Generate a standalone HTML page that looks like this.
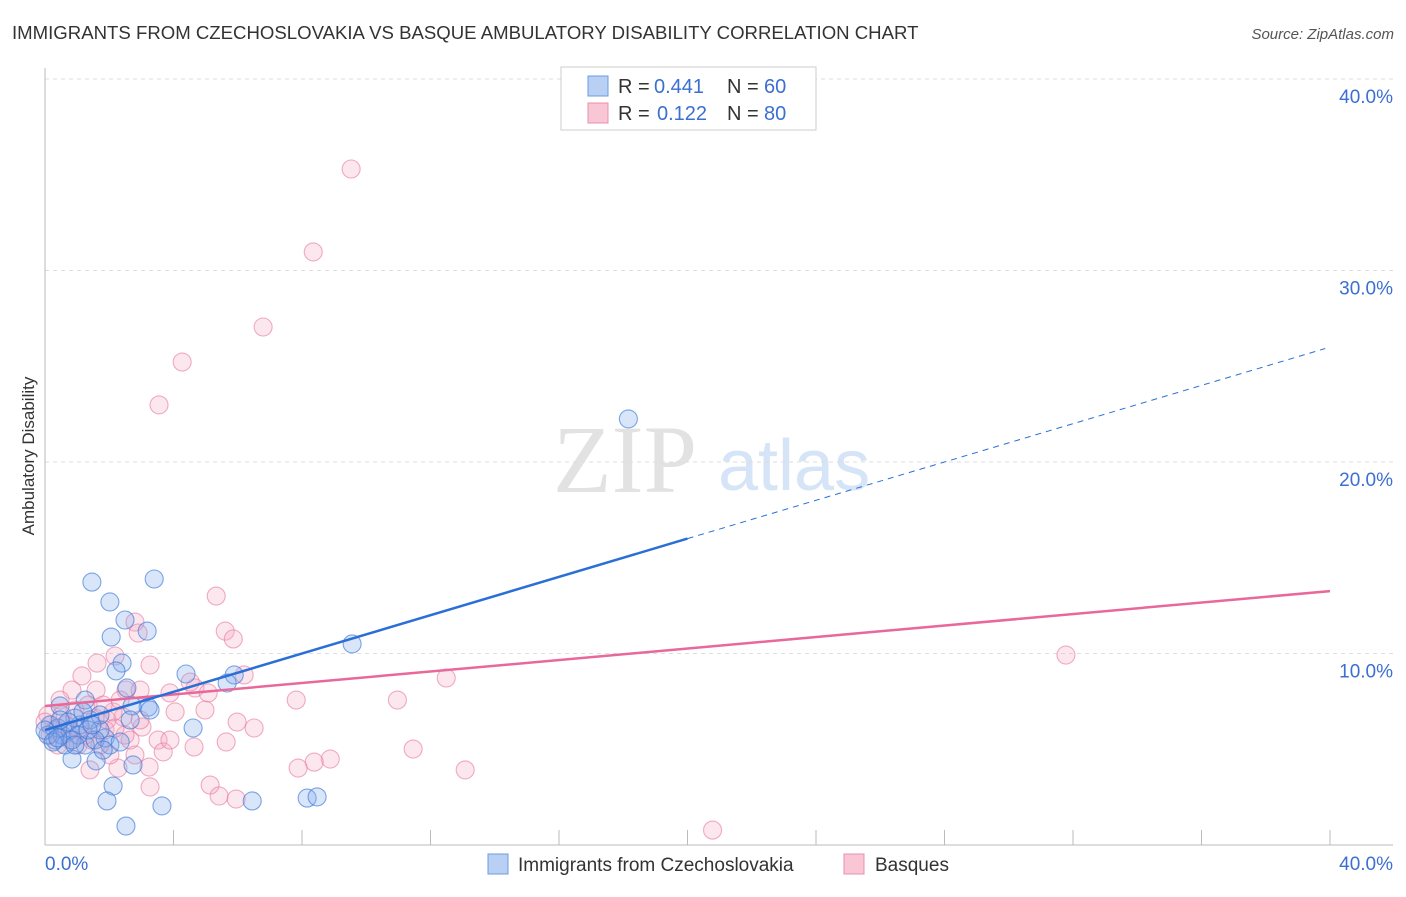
<!DOCTYPE html>
<html><head><meta charset="utf-8"><style>
body{margin:0;background:#fff;font-family:"Liberation Sans",sans-serif;}
</style></head><body>
<svg id="c" width="1406" height="892" xmlns="http://www.w3.org/2000/svg">
<text x="12" y="39" font-size="18.6" fill="#333">IMMIGRANTS FROM CZECHOSLOVAKIA VS BASQUE AMBULATORY DISABILITY CORRELATION CHART</text>
<text x="1394" y="39" font-size="15" fill="#555" font-style="italic" text-anchor="end">Source: ZipAtlas.com</text>
<text x="34" y="456" font-size="17" fill="#333" text-anchor="middle" transform="rotate(-90 34 456)">Ambulatory Disability</text>
<g><text x="553" y="492" font-size="96" font-family="Liberation Serif" fill="#e2e2e2">ZIP</text><text x="718" y="490" font-size="72" fill="#d5e4f6">atlas</text></g>
<g id="grid"></g><g id="marks"></g>
<g>
<rect x="561" y="67" width="255" height="63" fill="#fff" stroke="#ccc"/>
<rect x="588" y="76" width="20" height="20" fill="#b8d0f3" stroke="#6b9be0"/>
<rect x="588" y="103" width="20" height="20" fill="#f8c6d5" stroke="#e890ad"/>
<text x="618" y="93" font-size="20" fill="#333">R =</text><text x="654" y="93" font-size="20" fill="#3b6fd0">0.441</text>
<text x="727" y="93" font-size="20" fill="#333">N =</text><text x="764" y="93" font-size="20" fill="#3b6fd0">60</text>
<text x="618" y="120" font-size="20" fill="#333">R =</text><text x="657" y="120" font-size="20" fill="#3b6fd0">0.122</text>
<text x="727" y="120" font-size="20" fill="#333">N =</text><text x="764" y="120" font-size="20" fill="#3b6fd0">80</text>
</g>
<g>
<rect x="488" y="854" width="20" height="20" fill="#b8d0f3" stroke="#6b9be0"/>
<text x="518" y="871" font-size="19" fill="#333">Immigrants from Czechoslovakia</text>
<rect x="844" y="854" width="20" height="20" fill="#f8c6d5" stroke="#e890ad"/>
<text x="875" y="871" font-size="19" fill="#333">Basques</text>
</g>
</svg>
<script>
const blueX=[1.46,3.40,2.02,2.49,3.18,2.06,2.40,2.21,4.39,5.89,5.67,2.55,3.21,2.71,1.25,0.47,9.56,18.16,4.61,1.87,0.84,1.59,2.74,2.12,1.93,3.64,6.45,8.16,8.47,2.52,0.31,0.53,0.78,1.09,1.40,0.16,0.40,0.93,1.71,1.25,0.62,0.09,1.56,2.02,2.34,1.71,0.72,1.03,1.34,0.25,0.47,0.84,1.18,1.46,1.81,0.0,3.27,2.65,0.93,0.40];
const blueY=[13.73,13.89,12.69,11.75,11.17,10.86,9.50,9.09,8.93,8.88,8.46,8.20,7.20,7.26,7.57,7.26,10.50,22.25,6.11,5.59,4.49,4.39,4.18,3.08,2.30,2.04,2.30,2.45,2.51,0.99,5.48,5.74,6.01,6.27,6.53,6.27,6.11,6.63,6.01,5.22,5.22,5.74,5.48,5.22,5.38,6.79,6.42,5.74,6.01,5.38,6.53,5.48,6.95,6.27,4.96,6.0,7.05,6.53,5.22,5.59];
const pinkX=[9.53,8.35,6.79,4.27,3.55,5.33,2.80,2.90,5.61,5.86,2.18,3.27,1.15,1.62,2.52,2.96,0.84,1.59,3.89,4.67,5.08,4.52,6.20,12.49,31.78,4.05,4.98,7.82,10.97,2.43,5.98,6.51,1.93,2.12,3.52,4.64,5.64,3.68,11.46,8.88,8.38,7.88,13.08,3.24,2.27,1.40,5.14,5.42,5.95,3.27,20.78,2.02,0.47,0.93,1.25,1.56,0.62,0.31,1.71,2.65,3.02,1.09,0.09,0.78,0.40,1.34,1.87,2.49,0.16,0.53,1.03,1.46,2.18,2.80,0.69,0.0,2.34,1.81,2.96,3.89];
const pinkY=[35.3,30.97,27.05,25.22,22.98,13.0,11.64,11.07,11.17,10.76,9.87,9.40,8.83,9.50,8.09,8.09,8.09,8.09,7.94,8.20,7.94,8.51,8.88,8.72,9.92,6.95,7.05,7.57,7.57,6.68,6.42,6.11,6.53,6.95,5.48,5.12,5.38,4.86,5.01,4.49,4.33,4.02,3.92,4.07,4.02,3.92,3.13,2.56,2.40,3.03,0.78,4.70,7.57,7.05,5.74,6.63,6.27,6.01,5.22,5.48,6.16,6.01,6.79,5.48,5.22,7.31,6.01,5.74,5.74,6.79,5.22,5.48,6.11,4.70,5.90,6.42,7.57,7.31,6.53,5.48];
const yTicks=[10,20,30,40];
const yTickLabels=["10.0%","20.0%","30.0%","40.0%"];
const xTicks=[0,4,8,12,16,20,24,28,32,36,40];
const blueTrend=[6.0,0.5]; // intercept, slope
const pinkTrend=[7.26,0.15];
const NS="http://www.w3.org/2000/svg";
const sx=v=>45+v*32.125, sy=v=>845-v*19.15;
function mk(t,a,p){const e=document.createElementNS(NS,t);for(const k in a)e.setAttribute(k,a[k]);p.appendChild(e);return e;}
const g=document.getElementById('grid'),m=document.getElementById('marks');
yTicks.forEach((t,i)=>{
 const l=mk('line',{x1:45,x2:1393,y1:sy(t),y2:sy(t),stroke:'#ddd','stroke-dasharray':'4,4'},g);
 
 
 const tx=mk('text',{x:1393,y:sy(t)+24,'font-size':19,fill:'#3b6fd0','text-anchor':'end'},g);
 tx.textContent=yTickLabels[i];
 
 
});
let a=mk('line',{x1:45,x2:45,y1:68,y2:845,stroke:'#bbb'},g);


a=mk('line',{x1:45,x2:1393,y1:845,y2:845,stroke:'#bbb'},g);


xTicks.forEach(t=>{const l=mk('line',{x1:sx(t),x2:sx(t),y1:830,y2:845,stroke:'#bbb'},g);
 
 });
[[0,'0.0%','start',45],[40,'40.0%','end',1393]].forEach(d=>{const t=mk('text',{x:d[3],y:870,'font-size':19,fill:'#3b6fd0','text-anchor':d[2]},g);t.textContent=d[1];
 
 });
function pts(X,Y,fill,stroke,name){X.forEach((x,i)=>{const c=mk('circle',{cx:sx(x),cy:sy(Y[i]),r:9,fill:fill,stroke:stroke,'stroke-width':1.1},m);
 
 });}
pts(pinkX,pinkY,'rgba(244,170,195,0.28)','rgba(230,120,155,0.6)','basque-point');
pts(blueX,blueY,'rgba(130,170,235,0.3)','rgba(60,120,215,0.65)','czech-point');
let l=mk('line',{x1:sx(0),y1:sy(pinkTrend[0]),x2:sx(40),y2:sy(pinkTrend[0]+40*pinkTrend[1]),stroke:'#e8689a','stroke-width':2.5},m);


l=mk('line',{x1:sx(0),y1:sy(blueTrend[0]),x2:sx(20),y2:sy(blueTrend[0]+20*blueTrend[1]),stroke:'#2a6fd6','stroke-width':2.5},m);


l=mk('line',{x1:sx(20),y1:sy(blueTrend[0]+20*blueTrend[1]),x2:sx(39.85),y2:sy(blueTrend[0]+39.85*blueTrend[1]),stroke:'#2a6fd6','stroke-width':1,'stroke-dasharray':'6,5'},m);


</script>
</body></html>
